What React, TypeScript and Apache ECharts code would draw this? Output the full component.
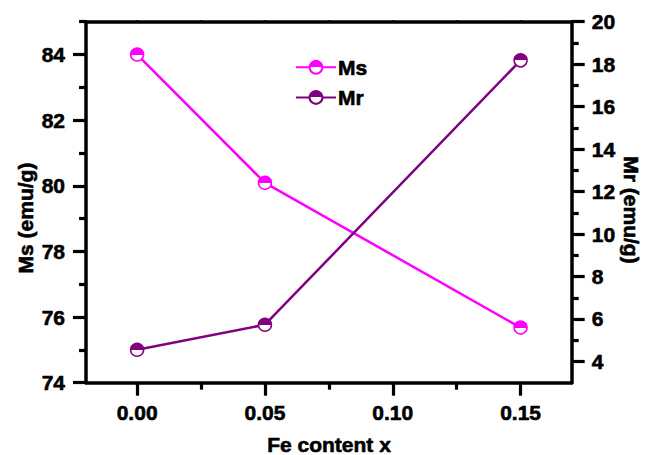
import React, { useEffect, useRef } from "react";
import * as echarts from "echarts";

// Fe content (x) of each sample
const feContent = [0.0, 0.05, 0.15];
// Saturation magnetisation Ms (emu/g)
const msValues = [84.0, 80.09, 75.68];
// Remanent magnetisation Mr (emu/g)
const mrValues = [4.55, 5.73, 18.18];

const xMajorTicks = [0.0, 0.05, 0.1, 0.15];
const xMinorTicks = [0.025, 0.075, 0.125];
const msMajorTicks = [74, 76, 78, 80, 82, 84];
const msMinorTicks = [75, 77, 79, 81, 83, 85];
const mrMajorTicks = [4, 6, 8, 10, 12, 14, 16, 18, 20];
const mrMinorTicks = [5, 7, 9, 11, 13, 15, 17, 19];

const FONT = "'Liberation Sans', Arial, sans-serif";
const MS_COLOR = "#ff00ff";
const MR_COLOR = "#800080";

// top half filled, bottom half white
const halfFill = (c: string) => ({
  type: "linear",
  x: 0,
  y: 0,
  x2: 0,
  y2: 1,
  colorStops: [
    { offset: 0, color: c },
    { offset: 0.5, color: c },
    { offset: 0.5, color: "#ffffff" },
    { offset: 1, color: "#ffffff" },
  ],
});

const labelStyle = {
  fontFamily: FONT,
  fontWeight: "bold" as const,
  fontSize: 21,
  color: "#000",
  textBorderColor: "#000",
  textBorderWidth: 0.6,
};

const titleStyle = {
  fill: "#000",
  stroke: "#000",
  lineWidth: 0.6,
  align: "center",
  verticalAlign: "middle",
  font: `bold 21px ${FONT}`,
};

const axisLineStyle = { show: true, onZero: false, lineStyle: { color: "#000", width: 3.5 } };
const tickLine = { width: 3.2, color: "#000" };

export default function App() {
  const ref = useRef<HTMLDivElement>(null);

  useEffect(() => {
    if (!ref.current) return;
    const chart = echarts.init(ref.current, undefined, { renderer: "svg" });

    const xRange = { min: -0.02, max: 0.17 };
    const msRange = { min: 74, max: 85 };
    const mrRange = { min: 3, max: 20 };

    const option: any = {
      animation: false,
      backgroundColor: "#fff",
      grid: { left: 86, top: 21.7, right: 77.3, bottom: 72.3, containLabel: false },
      legend: {
        orient: "vertical",
        left: 290,
        top: 51.5,
        itemWidth: 40,
        itemHeight: 16,
        itemGap: 8.5,
        textStyle: { ...labelStyle, padding: [0, 0, 0, -3] },
        data: ["Ms", "Mr"],
      },
      xAxis: [
        {
          type: "value",
          position: "bottom",
          ...xRange,
          axisLine: axisLineStyle,
          axisTick: { show: true, length: 13, lineStyle: tickLine, customValues: xMajorTicks },
          axisLabel: {
            ...labelStyle,
            margin: 19,
            customValues: xMajorTicks,
            formatter: (v: number) => v.toFixed(2),
          },
          splitLine: { show: false },
        },
        {
          type: "value",
          position: "bottom",
          ...xRange,
          axisLine: { show: false, onZero: false },
          axisTick: { show: true, length: 7, lineStyle: tickLine, customValues: xMinorTicks },
          axisLabel: { show: false },
          splitLine: { show: false },
        },
        {
          type: "value",
          position: "top",
          ...xRange,
          axisLine: axisLineStyle,
          axisTick: {
            show: true,
            length: 1.5,
            lineStyle: { width: 2, color: "#000" },
            customValues: [...xMajorTicks, ...xMinorTicks],
          },
          axisLabel: { show: false },
          splitLine: { show: false },
        },
      ],
      yAxis: [
        {
          type: "value",
          position: "left",
          ...msRange,
          axisLine: axisLineStyle,
          axisTick: { show: true, length: 13, lineStyle: tickLine, customValues: msMajorTicks },
          axisLabel: { ...labelStyle, margin: 21, customValues: msMajorTicks },
          splitLine: { show: false },
        },
        {
          type: "value",
          position: "left",
          ...msRange,
          axisLine: { show: false, onZero: false },
          axisTick: { show: true, length: 7, lineStyle: tickLine, customValues: msMinorTicks },
          axisLabel: { show: false },
          splitLine: { show: false },
        },
        {
          type: "value",
          position: "right",
          ...mrRange,
          axisLine: axisLineStyle,
          axisTick: { show: true, length: 13, lineStyle: tickLine, customValues: mrMajorTicks },
          axisLabel: { ...labelStyle, margin: 20, customValues: mrMajorTicks },
          splitLine: { show: false },
        },
        {
          type: "value",
          position: "right",
          ...mrRange,
          axisLine: { show: false, onZero: false },
          axisTick: { show: true, length: 7, lineStyle: tickLine, customValues: mrMinorTicks },
          axisLabel: { show: false },
          splitLine: { show: false },
        },
      ],
      series: [
        {
          name: "Ms",
          type: "line",
          xAxisIndex: 0,
          yAxisIndex: 0,
          data: feContent.map((x, i) => [x, msValues[i]]),
          symbol: "circle",
          symbolSize: 13,
          lineStyle: { color: MS_COLOR, width: 2.5 },
          itemStyle: { color: halfFill(MS_COLOR), borderColor: MS_COLOR, borderWidth: 1.5 },
          z: 3,
        },
        {
          name: "Mr",
          type: "line",
          xAxisIndex: 0,
          yAxisIndex: 2,
          data: feContent.map((x, i) => [x, mrValues[i]]),
          symbol: "circle",
          symbolSize: 13,
          lineStyle: { color: MR_COLOR, width: 2.5 },
          itemStyle: { color: halfFill(MR_COLOR), borderColor: MR_COLOR, borderWidth: 1.5 },
          z: 3,
        },
      ],
      graphic: [
        {
          type: "text",
          x: 25,
          y: 218,
          rotation: Math.PI / 2,
          style: { text: "Ms (emu/g)", ...titleStyle },
        },
        {
          type: "text",
          x: 631,
          y: 210,
          rotation: -Math.PI / 2,
          style: { text: "Mr (emu/g)", ...titleStyle },
        },
        {
          type: "text",
          x: 329,
          y: 444,
          style: { text: "Fe content x", ...titleStyle },
        },
      ],
    };

    chart.setOption(option);
    return () => chart.dispose();
  }, []);

  return (
    <div
      ref={ref}
      style={{ position: "fixed", left: 0, top: 0, width: 649, height: 455, background: "#fff" }}
    />
  );
}
